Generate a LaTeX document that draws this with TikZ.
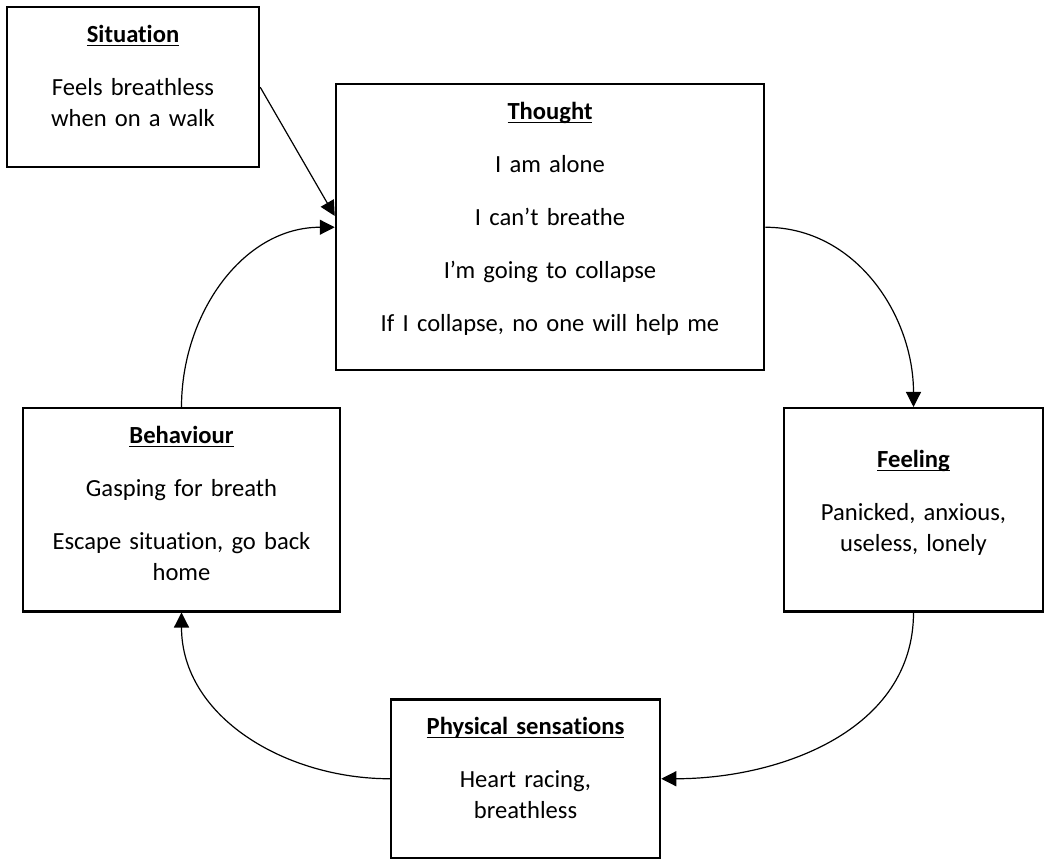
\documentclass[tikz,border=0pt]{standalone}
\usepackage{fontspec}
\setmainfont{Carlito}[Ligatures=NoCommon, Contextuals=NoAlternate, WordSpace=0.8]
\usepackage{tikz}
\usetikzlibrary{arrows.meta}

\begin{document}
\begin{tikzpicture}[x=0.5pt, y=0.5pt, >={Triangle[length=7.5pt,width=7.5pt]},
		box/.style={draw, line width=1.25pt, anchor=north, inner sep=0pt, align=center, text height=17.5pt, font=\fontsize{12.3}{15.5}\selectfont},
		link/.style={->, line width=0.6pt}]
		\useasboundingbox (0,0) rectangle (1044,858);
		\node[box, text width=126pt, text depth=62.5pt] (situation) at (133,852) {\underbar{\textbf{Situation}}\\[11pt] Feels breathless\\ when on a walk};
		\node[box, text width=214pt, text depth=125.5pt] (thought) at (550,775) {\underbar{\textbf{Thought}}\\[11pt] I am alone\\[11pt] I can’t breathe\\[11pt] I’m going to collapse\\[11pt] If I collapse, no one will help me};
		\node[box, text width=129.5pt, text height=29.5pt, text depth=72pt] (feeling) at (913.5,451) {\underbar{\textbf{Feeling}}\\[11pt] Panicked, anxious,\\ useless, lonely};
		\node[box, text width=134.5pt, text depth=62pt] (physical) at (525.5,160) {\underbar{\textbf{Physical sensations}}\\[11pt] Heart racing,\\ breathless};
		\node[box, text width=158.5pt, text depth=84pt] (behaviour) at (181.5,451) {\underbar{\textbf{Behaviour}}\\[11pt] Gasping for breath\\[11pt] Escape situation, go back\\ home};
		\draw[link] (situation.east) -- (thought.177);
		\draw[link] (thought.east) to[out=0, in=90] (feeling.north);
		\draw[link] (feeling.south) to[out=-90, in=0] (physical.east);
		\draw[link] (physical.west) to[out=180, in=-90] (behaviour.south);
		\draw[link] (behaviour.north) to[out=90, in=180] (thought.west);
\end{tikzpicture}
\end{document}
